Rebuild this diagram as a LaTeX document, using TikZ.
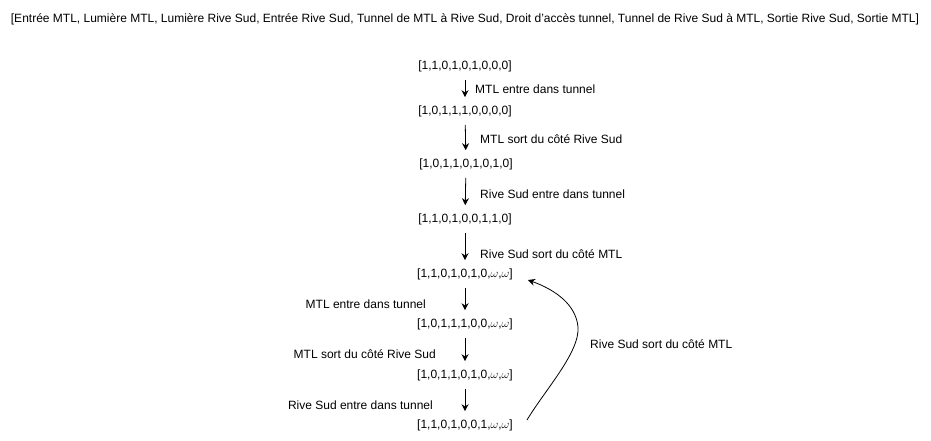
\documentclass[tikz,border=0pt]{standalone}
\usepackage{fontspec}
\setmainfont{Liberation Sans}
\usetikzlibrary{arrows.meta}

\tikzset{
	state/.style={inner xsep=0pt, inner ysep=8pt, font=\fontsize{12}{14}\selectfont},
	trans/.style={inner sep=0pt, font=\fontsize{12}{14}\selectfont},
	flow/.style={-{Stealth[length=7pt,width=7pt]}, line width=0.8pt},
}

\begin{document}
\begin{tikzpicture}[x=1pt,y=-1pt]
	\useasboundingbox (0,0) rectangle (931,441);

	\node[trans] (legend) at (465,19) {[Entrée MTL, Lumière MTL, Lumière Rive Sud, Entrée Rive Sud, Tunnel de MTL à Rive Sud, Droit d'accès tunnel, Tunnel de Rive Sud à MTL, Sortie Rive Sud, Sortie MTL]};

	\draw
		(465,66) node[state] (s0) {[1,1,0,1,0,1,0,0,0]}
		(465,111) node[state] (s1) {[1,0,1,1,1,0,0,0,0]}
		(466,164) node[state] (s2) {[1,0,1,1,0,1,0,1,0]}
		(465,219) node[state] (s3) {[1,1,0,1,0,0,1,1,0]}
		(465,274) node[state] (s4) {[1,1,0,1,0,1,0,$\omega$,$\omega$]}
		(465,324) node[state] (s5) {[1,0,1,1,1,0,0,$\omega$,$\omega$]}
		(465,375) node[state] (s6) {[1,0,1,1,0,1,0,$\omega$,$\omega$]}
		(465,425) node[state] (s7) {[1,1,0,1,0,0,1,$\omega$,$\omega$]};

	\draw[flow] (s0) -- (s1);
	\draw[flow] (s1) -- (s2);
	\draw[flow] (s2) -- (s3);
	\draw[flow] (s3) -- (s4);
	\draw[flow] (s4) -- (s5);
	\draw[flow] (s5) -- (s6);
	\draw[flow] (s6) -- (s7);

	\coordinate (bend) at (578,327);
	\draw[flow]
		([xshift=14pt,yshift=5pt]s7.east) .. controls (545,390) and (580,352) .. (bend)
		.. controls (576,305) and (556,290) .. ([xshift=15pt,yshift=-6pt]s4.east);

	\draw
		(475,89) node[trans, anchor=west] (t1) {MTL entre dans tunnel}
		(480,139) node[trans, anchor=west] (t2) {MTL sort du côté Rive Sud}
		(480,194) node[trans, anchor=west] (t3) {Rive Sud entre dans tunnel}
		(480,254) node[trans, anchor=west] (t4) {Rive Sud sort du côté MTL}
		(426,304) node[trans, anchor=east] (t5) {MTL entre dans tunnel}
		(436,354) node[trans, anchor=east] (t6) {MTL sort du côté Rive Sud}
		(433,405) node[trans, anchor=east] (t7) {Rive Sud entre dans tunnel}
		(590,344) node[trans, anchor=west] (t8) {Rive Sud sort du côté MTL};
\end{tikzpicture}
\end{document}
